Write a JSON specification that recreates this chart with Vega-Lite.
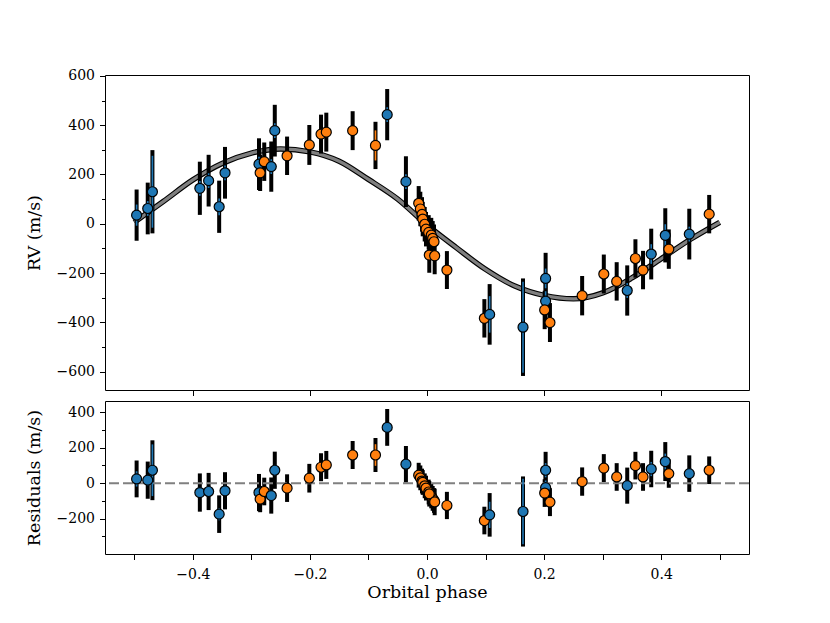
{
  "$schema": "https://vega.github.io/schema/vega-lite/v6.json",
  "description": "Phase-folded radial velocities with model and residuals",
  "background": "white",
  "padding": {"left": 24, "top": 68, "right": 5, "bottom": 5},
  "spacing": 11,
  "bounds": "flush",
  "config": {
    "view": {"stroke": "black", "strokeWidth": 1},
    "axis": {
      "grid": false,
      "domain": false,
      "tickColor": "black",
      "tickWidth": 1,
      "tickCount": 50,
      "labelFont": "DejaVu Serif",
      "labelFontSize": 14,
      "labelColor": "black",
      "labelFlush": false,
      "labelOverlap": false,
      "titleFont": "DejaVu Serif",
      "titleFontSize": 17.5,
      "titleFontWeight": "normal",
      "titleColor": "black"
    }
  },
  "datasets": {
    "model": [
      {"phase": -0.50, "rv": 6},
      {"phase": -0.45, "rv": 91},
      {"phase": -0.40, "rv": 178},
      {"phase": -0.35, "rv": 245},
      {"phase": -0.30, "rv": 287},
      {"phase": -0.25, "rv": 304},
      {"phase": -0.20, "rv": 292},
      {"phase": -0.15, "rv": 254},
      {"phase": -0.10, "rv": 180},
      {"phase": -0.05, "rv": 100},
      {"phase": 0.00, "rv": -5},
      {"phase": 0.05, "rv": -97},
      {"phase": 0.10, "rv": -185},
      {"phase": 0.15, "rv": -253},
      {"phase": 0.20, "rv": -291},
      {"phase": 0.25, "rv": -305},
      {"phase": 0.30, "rv": -281},
      {"phase": 0.35, "rv": -220},
      {"phase": 0.40, "rv": -142},
      {"phase": 0.45, "rv": -63},
      {"phase": 0.50, "rv": 6}
    ],
    "obs": [
      {"inst": "A", "phase": -0.496, "rv": 35, "res": 24, "err": 104, "emeas": 43},
      {"inst": "A", "phase": -0.477, "rv": 62, "res": 17, "err": 105, "emeas": 30},
      {"inst": "A", "phase": -0.469, "rv": 130, "res": 73, "err": 169, "emeas": 146},
      {"inst": "A", "phase": -0.388, "rv": 144, "res": -53, "err": 108, "emeas": 30},
      {"inst": "A", "phase": -0.373, "rv": 175, "res": -47, "err": 105, "emeas": 30},
      {"inst": "A", "phase": -0.355, "rv": 69, "res": -175, "err": 106, "emeas": 34},
      {"inst": "A", "phase": -0.345, "rv": 207, "res": -43, "err": 105, "emeas": 30},
      {"inst": "A", "phase": -0.287, "rv": 242, "res": -53, "err": 105, "emeas": 30},
      {"inst": "B", "phase": -0.285, "rv": 207, "res": -90, "err": 74, "emeas": 15},
      {"inst": "B", "phase": -0.278, "rv": 252, "res": -47, "err": 78, "emeas": 15},
      {"inst": "A", "phase": -0.266, "rv": 232, "res": -70, "err": 102, "emeas": 30},
      {"inst": "A", "phase": -0.260, "rv": 378, "res": 73, "err": 105, "emeas": 30},
      {"inst": "B", "phase": -0.239, "rv": 276, "res": -28, "err": 78, "emeas": 15},
      {"inst": "B", "phase": -0.201, "rv": 320, "res": 28, "err": 81, "emeas": 15},
      {"inst": "B", "phase": -0.181, "rv": 364, "res": 90, "err": 79, "emeas": 15},
      {"inst": "B", "phase": -0.172, "rv": 372, "res": 103, "err": 79, "emeas": 15},
      {"inst": "B", "phase": -0.127, "rv": 378, "res": 159, "err": 79, "emeas": 15},
      {"inst": "B", "phase": -0.088, "rv": 318, "res": 159, "err": 96, "emeas": 61},
      {"inst": "A", "phase": -0.068, "rv": 443, "res": 315, "err": 104, "emeas": 30},
      {"inst": "A", "phase": -0.036, "rv": 171, "res": 107, "err": 103, "emeas": 30},
      {"inst": "B", "phase": -0.0142, "rv": 83, "res": 45, "err": 70, "emeas": 12},
      {"inst": "B", "phase": -0.0114, "rv": 60, "res": 30, "err": 70, "emeas": 12},
      {"inst": "B", "phase": -0.0085, "rv": 38, "res": 12, "err": 70, "emeas": 12},
      {"inst": "B", "phase": -0.0073, "rv": 19, "res": 4, "err": 70, "emeas": 12},
      {"inst": "B", "phase": -0.0039, "rv": -2, "res": -15, "err": 70, "emeas": 12},
      {"inst": "B", "phase": -0.0017, "rv": -22, "res": -28, "err": 70, "emeas": 12},
      {"inst": "B", "phase": 0.0029, "rv": -35, "res": -50, "err": 70, "emeas": 12},
      {"inst": "B", "phase": 0.0073, "rv": -46, "res": -72, "err": 70, "emeas": 12},
      {"inst": "B", "phase": 0.0097, "rv": -59, "res": -86, "err": 70, "emeas": 12},
      {"inst": "B", "phase": 0.012, "rv": -73, "res": -98, "err": 70, "emeas": 12},
      {"inst": "B", "phase": 0.0039, "rv": -127, "res": -60, "err": 72, "emeas": 12},
      {"inst": "B", "phase": 0.0131, "rv": -130, "res": -106, "err": 75, "emeas": 12},
      {"inst": "B", "phase": 0.034, "rv": -188, "res": -126, "err": 77, "emeas": 15},
      {"inst": "B", "phase": 0.098, "rv": -384, "res": -211, "err": 78, "emeas": 15},
      {"inst": "A", "phase": 0.107, "rv": -368, "res": -179, "err": 123, "emeas": 74},
      {"inst": "A", "phase": 0.164, "rv": -420, "res": -160, "err": 198, "emeas": 185},
      {"inst": "A", "phase": 0.2026, "rv": -222, "res": 73, "err": 104, "emeas": 40},
      {"inst": "A", "phase": 0.2026, "rv": -314, "res": -25, "err": 105, "emeas": 40},
      {"inst": "B", "phase": 0.201, "rv": -350, "res": -56, "err": 78, "emeas": 15},
      {"inst": "B", "phase": 0.210, "rv": -401, "res": -107, "err": 79, "emeas": 15},
      {"inst": "B", "phase": 0.265, "rv": -292, "res": 9, "err": 80, "emeas": 15},
      {"inst": "B", "phase": 0.302, "rv": -204, "res": 85, "err": 79, "emeas": 15},
      {"inst": "B", "phase": 0.324, "rv": -234, "res": 35, "err": 78, "emeas": 15},
      {"inst": "A", "phase": 0.342, "rv": -271, "res": -14, "err": 102, "emeas": 30},
      {"inst": "B", "phase": 0.356, "rv": -141, "res": 99, "err": 78, "emeas": 15},
      {"inst": "B", "phase": 0.369, "rv": -188, "res": 35, "err": 78, "emeas": 15},
      {"inst": "A", "phase": 0.383, "rv": -123, "res": 80, "err": 103, "emeas": 40},
      {"inst": "A", "phase": 0.407, "rv": -47, "res": 122, "err": 110, "emeas": 45},
      {"inst": "B", "phase": 0.413, "rv": -103, "res": 54, "err": 80, "emeas": 15},
      {"inst": "A", "phase": 0.448, "rv": -42, "res": 54, "err": 103, "emeas": 30},
      {"inst": "B", "phase": 0.482, "rv": 39, "res": 73, "err": 78, "emeas": 15}
    ]
  },
  "vconcat": [
    {
      "width": 644,
      "height": 315,
      "layer": [
        {
          "data": {"name": "model"},
          "mark": {"type": "line", "color": "black", "strokeWidth": 5.5, "interpolate": "monotone"},
          "encoding": {
            "x": {"field": "phase", "type": "quantitative", "title": null},
            "y": {"field": "rv", "type": "quantitative", "title": "RV (m/s)"}
          }
        },
        {
          "data": {"name": "model"},
          "mark": {"type": "line", "color": "#7f7f7f", "strokeWidth": 3.2, "interpolate": "monotone"},
          "encoding": {
            "x": {"field": "phase", "type": "quantitative", "title": null},
            "y": {"field": "rv", "type": "quantitative", "title": "RV (m/s)"}
          }
        },
        {
          "data": {"name": "obs"},
          "mark": {"type": "errorbar", "ticks": false, "thickness": 4, "color": "black"},
          "encoding": {
            "x": {"field": "phase", "type": "quantitative", "title": null},
            "y": {"field": "rv", "type": "quantitative", "title": "RV (m/s)"},
            "yError": {"field": "err"}
          }
        },
        {
          "data": {"name": "obs"},
          "mark": {"type": "errorbar", "ticks": false, "thickness": 1.6},
          "encoding": {
            "x": {"field": "phase", "type": "quantitative", "title": null},
            "y": {"field": "rv", "type": "quantitative", "title": "RV (m/s)"},
            "yError": {"field": "emeas"},
            "color": {"field": "inst", "type": "nominal", "scale": {"domain": ["A", "B"], "range": ["#1f77b4", "#ff7f0e"]}, "legend": null}
          }
        },
        {
          "data": {"name": "obs"},
          "mark": {"type": "point", "shape": "circle", "filled": true, "size": 100, "stroke": "black", "strokeWidth": 1.2, "opacity": 1},
          "encoding": {
            "x": {
              "field": "phase", "type": "quantitative", "title": null,
              "scale": {"domain": [-0.55, 0.55], "nice": false, "zero": false},
              "axis": {"values": [-0.4, -0.2, 0, 0.2, 0.4], "labels": false, "tickSize": 5.5, "tickCount": 50}
            },
            "y": {
              "field": "rv", "type": "quantitative", "title": "RV (m/s)",
              "scale": {"domain": [-675, 604], "nice": false, "zero": false},
              "axis": {
                "values": [-600, -500, -400, -300, -200, -100, 0, 100, 200, 300, 400, 500, 600],
                "tickCount": 50,
                "labelExpr": "datum.value % 200 === 0 ? datum.label : ''",
                "tickSize": {"condition": {"test": "datum.value % 200 === 0", "value": 5.5}, "value": 3.5},
                "labelPadding": 5,
                "titlePadding": 13
              }
            },
            "fill": {"field": "inst", "type": "nominal", "scale": {"domain": ["A", "B"], "range": ["#1f77b4", "#ff7f0e"]}, "legend": null}
          }
        }
      ]
    },
    {
      "width": 644,
      "height": 153,
      "layer": [
        {
          "data": {"name": "obs"},
          "mark": {"type": "errorbar", "ticks": false, "thickness": 4, "color": "black"},
          "encoding": {
            "x": {
              "field": "phase", "type": "quantitative", "title": "Orbital phase",
              "scale": {"domain": [-0.55, 0.55], "nice": false, "zero": false},
              "axis": {
                "values": [-0.5, -0.4, -0.3, -0.2, -0.1, 0, 0.1, 0.2, 0.3, 0.4, 0.5],
                "tickCount": 50,
                "labelExpr": "abs(round(datum.value * 10)) % 2 === 0 ? format(datum.value, '.1f') : ''",
                "tickSize": 5.5,
                "labelPadding": 8,
                "titlePadding": 2
              }
            },
            "y": {
              "field": "res", "type": "quantitative", "title": "Residuals (m/s)",
              "scale": {"domain": [-400, 464], "nice": false, "zero": false},
              "axis": {
                "values": [-300, -200, -100, 0, 100, 200, 300, 400],
                "tickCount": 50,
                "labelExpr": "datum.value % 200 === 0 ? datum.label : ''",
                "tickSize": {"condition": {"test": "datum.value % 200 === 0", "value": 5.5}, "value": 3.5},
                "labelPadding": 5,
                "titlePadding": 13
              }
            },
            "yError": {"field": "err"}
          }
        },
        {
          "data": {"values": [{}]},
          "mark": {"type": "rule", "color": "#808080", "strokeWidth": 2, "strokeDash": [10, 4]},
          "encoding": {
            "y": {"datum": 0, "type": "quantitative"}
          }
        },
        {
          "data": {"name": "obs"},
          "mark": {"type": "errorbar", "ticks": false, "thickness": 1.6},
          "encoding": {
            "x": {"field": "phase", "type": "quantitative", "title": "Orbital phase"},
            "y": {"field": "res", "type": "quantitative", "title": "Residuals (m/s)"},
            "yError": {"field": "emeas"},
            "color": {"field": "inst", "type": "nominal", "scale": {"domain": ["A", "B"], "range": ["#1f77b4", "#ff7f0e"]}, "legend": null}
          }
        },
        {
          "data": {"name": "obs"},
          "mark": {"type": "point", "shape": "circle", "filled": true, "size": 100, "stroke": "black", "strokeWidth": 1.2, "opacity": 1},
          "encoding": {
            "x": {"field": "phase", "type": "quantitative", "title": "Orbital phase"},
            "y": {"field": "res", "type": "quantitative", "title": "Residuals (m/s)"},
            "fill": {"field": "inst", "type": "nominal", "scale": {"domain": ["A", "B"], "range": ["#1f77b4", "#ff7f0e"]}, "legend": null}
          }
        }
      ]
    }
  ]
}
